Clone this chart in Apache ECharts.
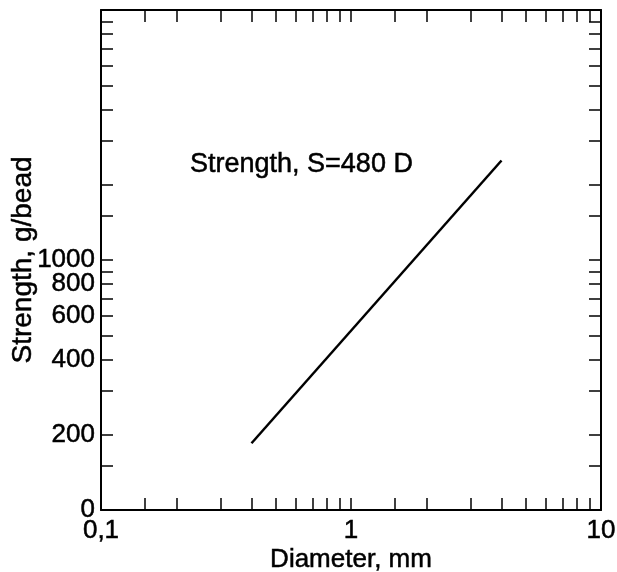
<!DOCTYPE html>
<html>
<head>
<meta charset="utf-8">
<script src="https://cdn.jsdelivr.net/npm/echarts@6/dist/echarts.min.js"></script>
<style>
  html, body { margin: 0; padding: 0; background: #fff; }
  #chart { width: 617px; height: 572px; }
</style>
</head>
<body>
<div id="chart"></div>
<script>
// diameter (mm) and strength (g/bead) at the two ends of the drawn line
var diameter = [0.4, 4];
var strength = [185, 2500];

var xTicks = [0.1, 0.15, 0.2, 0.3, 0.4, 0.5, 0.6, 0.7, 0.8, 0.9, 1, 1.5, 2, 3, 4, 5, 6, 7, 8, 9, 10];
var xLabels = [0.1, 1, 10];
var yTicks = [100, 150, 200, 300, 400, 500, 600, 700, 800, 900, 1000, 1500, 2000, 3000, 4000, 5000, 6000, 7000, 8000, 9000, 10000];
var yLabels = [100, 200, 400, 600, 800, 1000];

var font = 'Liberation Sans';
// slight outline so the text looks as heavy as the scan
var heavy = { textBorderColor: '#000', textBorderWidth: 0.5 };

var chart = echarts.init(document.getElementById('chart'));

var lineData = diameter.map(function (d, i) { return [d, strength[i]]; });

function frameX(pos, showLabel) {
    return {
        type: 'log',
        logBase: 10,
        min: 0.1,
        max: 10,
        position: pos,
        name: showLabel ? 'Diameter, mm' : '',
        nameLocation: 'middle',
        nameGap: 37,
        nameMoveOverlap: false,
        nameTextStyle: Object.assign({ fontFamily: font, fontSize: 26, color: '#000' }, heavy),
        axisLine: { show: true, onZero: false, lineStyle: { color: '#000', width: 2 } },
        axisTick: { show: true, inside: true, length: 12, customValues: xTicks, lineStyle: { color: '#000', width: 1.5 } },
        minorTick: { show: false },
        axisLabel: Object.assign({
            show: showLabel,
            customValues: xLabels,
            hideOverlap: false,
            showMinLabel: true,
            showMaxLabel: true,
            margin: 8,
            fontFamily: font, fontSize: 26, color: '#000',
            formatter: function (v) { return String(v).replace('.', ','); }
        }, heavy),
        splitLine: { show: false }
    };
}

// labels: the 800 and 1000 labels touch, so the top one goes on its own
// bare axis to keep ECharts from dropping either of them
function frameY(pos, labels, withFrame, withName) {
    return {
        type: 'log',
        logBase: 10,
        min: 100,
        max: 10000,
        position: pos,
        name: withName ? 'Strength, g/bead' : '',
        nameLocation: 'middle',
        nameGap: 64,
        nameRotate: 90,
        nameMoveOverlap: false,
        nameTextStyle: Object.assign({ fontFamily: font, fontSize: 28, color: '#000' }, heavy),
        axisLine: { show: withFrame, onZero: false, lineStyle: { color: '#000', width: 2 } },
        axisTick: { show: withFrame, inside: true, length: 12, customValues: yTicks, lineStyle: { color: '#000', width: 1.5 } },
        minorTick: { show: false },
        axisLabel: Object.assign({
            show: labels.length > 0,
            customValues: labels.length ? labels : [100],
            hideOverlap: false,
            showMinLabel: true,
            showMaxLabel: true,
            margin: 6,
            fontFamily: font, fontSize: 26, color: '#000',
            formatter: function (v) { return Math.round(v) === 100 ? '0' : String(Math.round(v)); }
        }, heavy),
        splitLine: { show: false }
    };
}

var option = {
    animation: false,
    backgroundColor: '#fff',
    title: {
        text: 'Strength, S=480 D',
        left: 185,
        top: 146,
        textStyle: Object.assign({ fontFamily: font, fontSize: 27, fontWeight: 'normal', color: '#000' }, heavy)
    },
    grid: { left: 101, right: 16, top: 10, bottom: 62, containLabel: false, outerBoundsMode: 'none' },
    xAxis: [frameX('bottom', true), frameX('top', false)],
    yAxis: [
        frameY('left', yLabels.slice(0, -1), true, true),
        frameY('right', [], true, false),
        frameY('left', yLabels.slice(-1), false, false)
    ],
    series: [{
        type: 'line',
        data: lineData,
        showSymbol: false,
        lineStyle: { color: '#000', width: 2.5 },
        itemStyle: { color: '#000' }
    }]
};

chart.setOption(option);
</script>
</body>
</html>
